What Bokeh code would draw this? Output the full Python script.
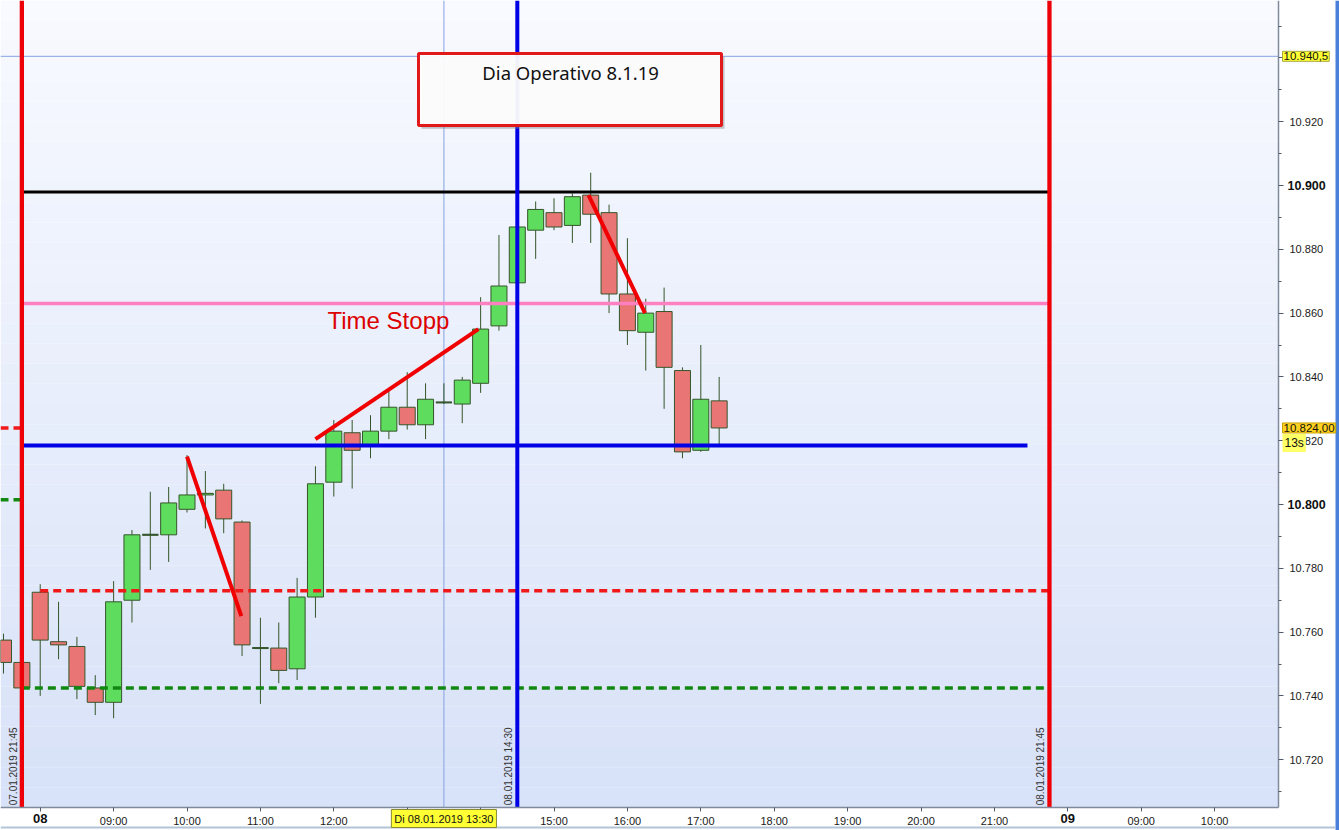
import numpy as np
from bokeh.plotting import figure
from bokeh.models import Range1d, FixedTicker, Label, ColumnDataSource
from bokeh.core.properties import value
from bokeh.embed import file_html
from bokeh.resources import INLINE

# ---------------- data ----------------
# session hour of each 15-minute bar (08:00 = 8.0; 7.50/7.75 = last bars of 07.01.2019)
bar_time = [7.50, 7.75, 8.00, 8.25, 8.50, 8.75, 9.00, 9.25, 9.50, 9.75,
            10.00, 10.25, 10.50, 10.75, 11.00, 11.25, 11.50, 11.75, 12.00, 12.25,
            12.50, 12.75, 13.00, 13.25, 13.50, 13.75, 14.00, 14.25, 14.50, 14.75,
            15.00, 15.25, 15.50, 15.75, 16.00, 16.25, 16.50, 16.75, 17.00, 17.25]
open_ = [10757.5, 10750.5, 10772.5, 10757.0, 10755.5, 10742.5, 10738.0, 10770.0, 10790.5, 10790.5,
         10798.5, 10803.0, 10804.5, 10794.5, 10755.0, 10755.0, 10748.5, 10771.0, 10807.0, 10822.5,
         10818.5, 10823.0, 10830.5, 10825.0, 10832.0, 10831.5, 10838.0, 10856.0, 10869.5, 10886.0,
         10891.5, 10887.5, 10897.0, 10891.5, 10866.0, 10854.0, 10860.5, 10842.0, 10817.0, 10832.5]
close = [10750.5, 10742.5, 10757.5, 10756.0, 10743.0, 10738.0, 10769.5, 10790.5, 10790.5, 10800.5,
         10803.0, 10803.5, 10795.5, 10756.0, 10755.0, 10748.0, 10771.0, 10806.5, 10823.0, 10817.0,
         10823.0, 10830.5, 10825.0, 10833.0, 10832.0, 10839.0, 10855.0, 10868.5, 10887.0, 10892.5,
         10887.0, 10896.5, 10891.0, 10866.0, 10854.5, 10860.0, 10843.0, 10816.5, 10833.0, 10824.0]
high = [10759.5, 10751.0, 10775.0, 10769.5, 10758.5, 10746.5, 10776.0, 10792.0, 10804.0, 10805.5,
        10815.5, 10810.5, 10806.5, 10795.0, 10764.5, 10763.0, 10777.0, 10812.0, 10826.5, 10826.5,
        10828.0, 10836.5, 10841.5, 10838.0, 10838.0, 10840.0, 10865.0, 10884.5, 10888.5, 10895.0,
        10896.0, 10897.5, 10904.0, 10894.0, 10883.5, 10864.5, 10868.0, 10843.0, 10850.0, 10840.0]
low = [10747.0, 10741.5, 10740.0, 10751.5, 10739.0, 10734.0, 10733.0, 10763.0, 10779.5, 10782.0,
       10797.5, 10792.5, 10791.0, 10752.5, 10737.5, 10744.0, 10745.0, 10764.5, 10802.5, 10805.0,
       10814.5, 10820.5, 10823.5, 10820.5, 10831.5, 10825.5, 10835.0, 10854.5, 10868.5, 10877.0,
       10886.0, 10882.0, 10882.0, 10860.0, 10850.0, 10842.0, 10830.0, 10814.5, 10816.5, 10818.0]

# horizontal levels
level_high = 10898.0        # black
level_timestop = 10863.0    # pink
level_open = 10818.5        # blue
level_red_dash = 10773.0
level_green_dash = 10742.5
prev_red_dash = 10824.0
prev_green_dash = 10801.5

# vertical markers (session hours)
session_prev_end = 7.75     # 07.01.2019 21:45
session_end = 21.75         # 08.01.2019 21:45
marker_1430 = 14.5          # 08.01.2019 14:30
blue_line_end = 21.45
red_dash_start = 8.0
crosshair_time = 13.5
crosshair_price = 10940.5
last_price = 10824.0

# hand-drawn trend lines
trend_x0 = [10.00, 11.75, 15.47]
trend_y0 = [10815.0, 10820.5, 10897.0]
trend_x1 = [10.74, 13.97, 16.24]
trend_y1 = [10765.0, 10855.0, 10860.0]

# axis ticks
x_ticks = [8, 9, 10, 11, 12, 13, 14, 15, 16, 17, 18, 19, 20, 21, 22, 23, 24]
x_tick_labels = ["", "09:00", "10:00", "11:00", "12:00", "", "", "15:00", "16:00", "17:00",
                 "18:00", "19:00", "20:00", "21:00", "", "09:00", "10:00"]
x_bold_ticks = [8, 22]
x_bold_labels = ["08", "09"]
y_ticks = [10720, 10740, 10760, 10780, 10800, 10820, 10840, 10860, 10880, 10900, 10920, 10940]
y_tick_labels = ["10.720", "10.740", "10.760", "10.780", "", "10.820", "10.840", "10.860",
                 "10.880", "", "10.920", ""]
y_bold_ticks = [10900, 10800]
y_bold_labels = ["10.900", "10.800"]
y_minor = [10710, 10730, 10750, 10770, 10790, 10810, 10830, 10850, 10870, 10890, 10910, 10930, 10950]

# ---------------- geometry ----------------
PX_H = 73.4      # px per hour
PX_P = 3.19      # px per index point
FW, FH = 1339, 830
X0 = 7.459
X1 = X0 + FW / PX_H
Y1 = 10958.0
Y0 = Y1 - FH / PX_P
CR = X0 + 1278 / PX_H        # right edge of chart area (axis)
CB = Y1 - 807 / PX_P         # bottom edge of chart area (axis)
LAB_Y = Y1 - 818 / PX_P      # vertical centre of x-axis labels

p = figure(frame_width=FW, frame_height=FH, x_range=Range1d(X0, X1), y_range=Range1d(Y0, Y1),
           output_backend="svg", toolbar_location=None, y_axis_location="right",
           min_border_left=0, min_border_top=0, min_border_right=0, min_border_bottom=0)
p.grid.visible = False
p.outline_line_color = None
p.border_fill_color = "white"
p.background_fill_color = "white"

# background gradient of chart area
nb = 40
edges = np.linspace(Y1, CB, nb + 1)
c_top = np.array([248, 250, 255])
c_bot = np.array([216, 226, 248])
cols = []
for i in range(nb):
    t = i / (nb - 1)
    c = (c_top * (1 - t) + c_bot * t).astype(int)
    cols.append("#%02x%02x%02x" % tuple(c))
p.quad(left=X0, right=CR, top=edges[:-1], bottom=edges[1:], fill_color=cols, line_color=None)

# window chrome (right blue bar, bottom line)
p.quad(left=[X0 + 1335 / PX_H], right=[X1], top=[Y1], bottom=[Y0], fill_color="#4A80DA", line_color=None)
p.segment(x0=[X0], x1=[X0 + 1335 / PX_H], y0=[Y1 - 827 / PX_P], y1=[Y1 - 827 / PX_P],
          line_color="#B4C4D8", line_width=2)

# crosshair
p.segment(x0=[crosshair_time], x1=[crosshair_time], y0=[CB], y1=[Y1], line_color="#86A2E2", line_width=1)
p.segment(x0=[X0], x1=[CR], y0=[crosshair_price], y1=[crosshair_price], line_color="#86A2E2", line_width=1)

# candles
src = ColumnDataSource(dict(t=bar_time, o=open_, c=close, h=high, l=low,
                            top=[max(a, b) for a, b in zip(open_, close)],
                            bot=[min(a, b) for a, b in zip(open_, close)],
                            col=["#5EDC5E" if c > o else "#E97575" for o, c in zip(open_, close)]))
wick = "#35562A"
p.segment(x0="t", x1="t", y0="l", y1="h", source=src, line_color=wick, line_width=1)
p.vbar(x="t", width=0.218, top="top", bottom="bot", source=src, fill_color="col", line_color=wick, line_width=1)
doji_t = [t for t, o, c in zip(bar_time, open_, close) if o == c]
doji_p = [o for o, c in zip(open_, close) if o == c]
p.segment(x0=[t - 0.109 for t in doji_t], x1=[t + 0.109 for t in doji_t], y0=doji_p, y1=doji_p,
          line_color=wick, line_width=2)

# horizontal levels
p.segment(x0=[X0], x1=[session_prev_end], y0=[prev_red_dash], y1=[prev_red_dash],
          line_color="#F01818", line_width=3.5, line_dash="8 5")
p.segment(x0=[X0], x1=[session_prev_end], y0=[prev_green_dash], y1=[prev_green_dash],
          line_color="#118811", line_width=3.5, line_dash="8 5")
p.segment(x0=[red_dash_start], x1=[session_end], y0=[level_red_dash], y1=[level_red_dash],
          line_color="#F01818", line_width=3.5, line_dash="8 5")
p.segment(x0=[session_prev_end], x1=[session_end], y0=[level_green_dash], y1=[level_green_dash],
          line_color="#118811", line_width=3.5, line_dash="8 5")
p.segment(x0=[session_prev_end], x1=[session_end], y0=[level_high], y1=[level_high],
          line_color="#000000", line_width=3)
p.segment(x0=[session_prev_end], x1=[session_end], y0=[level_timestop], y1=[level_timestop],
          line_color="#FF80C0", line_width=3.5)
p.segment(x0=[session_prev_end], x1=[blue_line_end], y0=[level_open], y1=[level_open],
          line_color="#0000E6", line_width=4)

# vertical markers
p.segment(x0=[marker_1430], x1=[marker_1430], y0=[CB], y1=[Y1], line_color="#0000E6", line_width=4)
p.segment(x0=[session_prev_end, session_end], x1=[session_prev_end, session_end], y0=[CB, CB], y1=[Y1, Y1],
          line_color="#EE0008", line_width=4.3)

# trend lines
p.segment(x0=trend_x0, y0=trend_y0, x1=trend_x1, y1=trend_y1, line_color="#F00000", line_width=4)

# Time Stopp text
p.text(x=[11.914], y=[10857.7], text=["Time Stopp"], text_font=value("Liberation Sans"),
       text_font_size="24px", text_color="#DD0000", text_baseline="middle", text_align="left")

# rotated date labels
p.text(x=[session_prev_end, marker_1430, session_end], y=[CB + 0.7] * 3,
       text=["07.01.2019 21:45", "08.01.2019 14:30", "08.01.2019 21:45"],
       angle=np.pi / 2, x_offset=-3, text_align="left", text_baseline="bottom",
       text_font=value("Liberation Sans"), text_font_size="10px", text_color="#333333")

# title box
p.quad(left=[13.195], right=[17.323], top=[10940.4], bottom=[10917.8], fill_color="#808080",
       fill_alpha=0.45, line_color=None)
p.quad(left=[13.154], right=[17.282], top=[10941.4], bottom=[10918.8], fill_color="white",
       fill_alpha=0.93, line_color="#E2191B", line_width=3)
p.text(x=[15.226], y=[10935.3], text=["Dia Operativo 8.1.19"], text_font=value("Noto Sans"),
       text_font_size="18.5px", text_color="#111111", text_align="center", text_baseline="middle")

# ---------------- axes (drawn at fixed positions inside the canvas) ----------------
p.yaxis.fixed_location = CR
p.xaxis.fixed_location = CB
p.yaxis.bounds = (CB, Y1)
p.xaxis.bounds = (X0, CR)
p.yaxis.ticker = FixedTicker(ticks=y_ticks, minor_ticks=y_minor)
p.yaxis.major_label_overrides = {k: v for k, v in zip(y_ticks, y_tick_labels)}
p.xaxis.ticker = FixedTicker(ticks=x_ticks, minor_ticks=[])
p.xaxis.major_label_overrides = {k: v for k, v in zip(x_ticks, x_tick_labels)}
for ax in (p.xaxis, p.yaxis):
    ax.axis_line_color = "#7F8A9C"
    ax.axis_line_width = 1.5
    ax.major_tick_line_color = "#505A6A"
    ax.minor_tick_line_color = "#505A6A"
    ax.major_tick_in = 0
    ax.minor_tick_in = 0
    ax.major_label_text_font = "Liberation Sans"
    ax.major_label_text_font_size = "11px"
    ax.major_label_text_color = "#1A1A1A"
p.yaxis.major_tick_out = 5
p.yaxis.minor_tick_out = 3
p.yaxis.major_label_standoff = 6
p.xaxis.major_tick_out = 4
p.xaxis.major_label_standoff = 3

# bold axis labels
for yv, txt in zip(y_bold_ticks, y_bold_labels):
    p.add_layout(Label(x=CR, y=yv, x_offset=9, text=txt, text_font="Liberation Sans", text_font_size="12.5px",
                       text_font_style="bold", text_baseline="middle", text_align="left", text_color="#111111"))
for xv, txt in zip(x_bold_ticks, x_bold_labels):
    p.add_layout(Label(x=xv, y=LAB_Y, text=txt, text_font="Liberation Sans", text_font_size="13px",
                       text_font_style="bold", text_baseline="middle", text_align="center", text_color="#111111"))

# price / time markers
p.add_layout(Label(x=CR, y=crosshair_price, x_offset=4, text="10.940,5", text_font="Liberation Sans",
                   text_font_size="11.5px", text_baseline="middle", text_align="left", text_color="#111111",
                   background_fill_color="#FFFF33", border_line_color="#A8A840", padding=1))
p.add_layout(Label(x=CR, y=last_price, x_offset=4, text="10.824,00", text_font="Liberation Sans",
                   text_font_size="11.5px", text_baseline="middle", text_align="left", text_color="#111111",
                   background_fill_color="#FFD21F", border_line_color="#C8A000", padding=1))
p.add_layout(Label(x=CR, y=last_price - 15 / PX_P, x_offset=4, text="13s", text_font="Liberation Sans",
                   text_font_size="12px", text_baseline="middle", text_align="left", text_color="#111111",
                   background_fill_color="#FFFF66", padding=2))
p.add_layout(Label(x=crosshair_time, y=LAB_Y, text="Di 08.01.2019 13:30", text_font="Liberation Sans",
                   text_font_size="11px", text_baseline="middle", text_align="center", text_color="#111111",
                   background_fill_color="#FFFF33", border_line_color="#8A8A30", padding=3))

open("out.html", "w").write(file_html(p, INLINE))
